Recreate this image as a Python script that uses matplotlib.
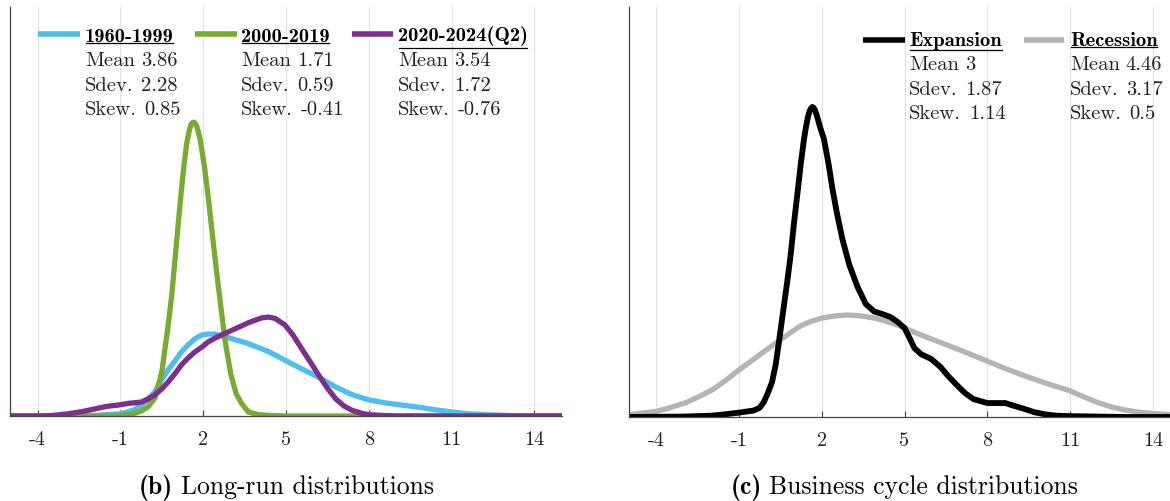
import matplotlib
matplotlib.use('Agg')
import matplotlib.pyplot as plt
from matplotlib.lines import Line2D
from matplotlib.textpath import TextPath
from matplotlib.font_manager import FontProperties

plt.rcParams['font.family'] = 'cmr10'
plt.rcParams['axes.unicode_minus'] = False

# ---- long-run distributions (panel b) ----
x_6099 = [-5, -3, -2, -1, -0.5, -0.24, 0, 0.24, 0.5, 0.73, 1.0, 1.21, 1.45, 1.7, 1.95, 2.18, 2.4,
          2.55, 2.85, 3.15, 3.5, 3.75, 4.12, 4.36, 4.96, 5.57, 6.18, 6.79, 7.39, 8, 8.6, 9.2, 9.82,
          10.43, 11.04, 11.65, 12.25, 13.2, 14, 15]
y_6099 = [0, 0, 0.001, 0.005, 0.014, 0.025, 0.039, 0.055, 0.083, 0.106, 0.128, 0.147, 0.163, 0.177,
          0.186, 0.188, 0.188, 0.186, 0.181, 0.175, 0.169, 0.163, 0.154, 0.148, 0.128, 0.108, 0.089,
          0.067, 0.049, 0.037, 0.030, 0.025, 0.020, 0.014, 0.009, 0.005, 0.003, 0.001, 0, 0]

x_0019 = [-5, -2, -1, -0.5, -0.25, 0, 0.25, 0.5, 0.7, 0.85, 0.95, 1.1, 1.2, 1.3, 1.4, 1.46, 1.52,
          1.58, 1.64, 1.70, 1.76, 1.82, 1.9, 2.05, 2.2, 2.35, 2.5, 2.65, 2.8, 3.0, 3.2, 3.4, 3.64,
          4.0, 4.5, 5, 15]
y_0019 = [0, 0, 0.001, 0.006, 0.011, 0.021, 0.041, 0.101, 0.193, 0.271, 0.339, 0.443, 0.512, 0.573,
          0.624, 0.644, 0.661, 0.671, 0.674, 0.672, 0.665, 0.653, 0.631, 0.569, 0.493, 0.406, 0.323,
          0.245, 0.170, 0.096, 0.050, 0.028, 0.009, 0.003, 0.001, 0, 0]

x_2024 = [-5, -4, -3.5, -2.9, -2.4, -1.94, -1.5, -1.1, -0.7, -0.24, 0, 0.24, 0.5, 0.73, 1.0, 1.21,
          1.45, 1.7, 1.95, 2.18, 2.5, 2.91, 3.3, 3.64, 3.9, 4.12, 4.36, 4.6, 4.96, 5.25, 5.57, 5.9,
          6.18, 6.5, 6.79, 7.1, 7.39, 7.7, 8, 8.6, 9, 15]
y_2024 = [0, 0, 0.001, 0.005, 0.010, 0.016, 0.022, 0.025, 0.029, 0.032, 0.039, 0.048, 0.062, 0.078,
          0.099, 0.117, 0.133, 0.147, 0.158, 0.170, 0.181, 0.193, 0.204, 0.214, 0.220, 0.225, 0.227,
          0.224, 0.209, 0.186, 0.154, 0.122, 0.094, 0.064, 0.040, 0.023, 0.013, 0.007, 0.003, 0.001,
          0, 0]

# ---- business cycle distributions (panel c) ----
x_exp = [-5, -3, -2, -1.67, -1, -0.46, -0.25, -0.1, 0.05, 0.2, 0.33, 0.45, 0.6, 0.75, 0.87, 1.0,
         1.14, 1.25, 1.36, 1.43, 1.5, 1.56, 1.61, 1.66, 1.71, 1.76, 1.82, 1.87, 1.94, 2.08, 2.25,
         2.39, 2.55, 2.75, 3.0, 3.3, 3.6, 3.9, 4.2, 4.5, 4.75, 5, 5.2, 5.36, 5.6, 5.97, 6.3, 6.58,
         6.9, 7.19, 7.5, 8, 8.3, 8.65, 9.0, 9.37, 9.7, 10.1, 10.5, 11, 12, 13, 16]
y_exp = [0, 0.001, 0.003, 0.005, 0.010, 0.015, 0.021, 0.034, 0.055, 0.080, 0.119, 0.172, 0.241,
         0.310, 0.369, 0.447, 0.523, 0.585, 0.638, 0.665, 0.688, 0.701, 0.708, 0.711, 0.709, 0.703,
         0.692, 0.681, 0.665, 0.638, 0.580, 0.523, 0.468, 0.408, 0.349, 0.298, 0.259, 0.242, 0.236,
         0.229, 0.218, 0.204, 0.179, 0.158, 0.144, 0.133, 0.115, 0.094, 0.073, 0.055, 0.041, 0.032,
         0.032, 0.032, 0.025, 0.018, 0.011, 0.006, 0.003, 0.002, 0.001, 0, 0]

x_rec = [-5, -4.5, -4, -3.5, -2.88, -2.4, -1.92, -1.5, -1, -0.6, -0.22, 0.15, 0.5, 0.9, 1.24, 1.6,
         2, 2.5, 2.93, 3.4, 3.9, 4.3, 4.75, 5, 5.6, 6.34, 7, 8, 8.7, 9.37, 10.2, 11, 11.5, 12.05,
         12.5, 13, 13.5, 14, 14.7, 15.5, 16]
y_rec = [0.005, 0.009, 0.013, 0.021, 0.034, 0.048, 0.064, 0.083, 0.108, 0.126, 0.144, 0.161, 0.177,
         0.195, 0.209, 0.219, 0.227, 0.232, 0.234, 0.232, 0.227, 0.220, 0.211, 0.204, 0.188, 0.170,
         0.154, 0.128, 0.110, 0.094, 0.076, 0.060, 0.046, 0.032, 0.023, 0.016, 0.011, 0.008, 0.005,
         0.002, 0.001]

xticks = [-4, -1, 2, 5, 8, 11, 14]
xticklabels = ['-4', '-1', '2', '5', '8', '11', '14']

stat_labels = ['Mean', 'Sdev.', 'Skew.']
names_b = ['1960-1999', '2000-2019', '2020-2024(Q2)']
stats_b = [['3.86', '2.28', '0.85'],
           ['1.71', '0.59', '-0.41'],
           ['3.54', '1.72', '-0.76']]
names_c = ['Expansion', 'Recession']
stats_c = [['3', '1.87', '1.14'],
           ['4.46', '3.17', '0.5']]

cols_b = ['#4DBEEE', '#77AC30', '#7E2F8E']
cols_c = ['#000000', '#B4B4B4']

W, H = 1170, 502
FS = 14.8
TICK_FS = 14.5
CAP_FS = 18.5
fig = plt.figure(figsize=(W / 100, H / 100), dpi=100)


def box(l, t, r, b):
    return [l / W, 1 - b / H, (r - l) / W, (b - t) / H]


def fx(px):
    return px / W


def fy(py):
    return 1 - py / H


def style(ax, top):
    ax.set_xlim(-5, 15)
    ax.set_ylim(0, top)
    ax.set_xticks(xticks)
    ax.set_xticklabels(xticklabels)
    ax.set_yticks([])
    ax.grid(axis='x', color='#e3e3e3', lw=0.9)
    ax.set_axisbelow(True)
    for s in ['top', 'right']:
        ax.spines[s].set_visible(False)
    for s in ['left', 'bottom']:
        ax.spines[s].set_color('#444444')
        ax.spines[s].set_linewidth(0.9)
    ax.tick_params(axis='x', direction='in', length=4, color='#444444',
                   labelsize=TICK_FS, pad=10, labelcolor='#222222')


def ink(s, fam, size):
    ext = TextPath((0, 0), s, size=size, prop=FontProperties(family=fam)).get_extents()
    k = 100 / 72.
    return ext.xmin * k, ext.xmax * k, ext.ymin * k


def legend_entry(col, sx0, sx1, sy, tx, base, name, vals):
    fig.add_artist(Line2D([fx(sx0), fx(sx1)], [fy(sy)] * 2, color=col, lw=4,
                          solid_capstyle='butt', transform=fig.transFigure))
    fig.text(fx(tx), fy(base), name, family='cmb10', fontsize=FS, va='baseline', ha='left')
    x0, x1, ymin = ink(name, 'cmb10', FS)
    uy = base + max(0, -ymin) + 2
    fig.add_artist(Line2D([fx(tx + x0), fx(tx + x1)], [fy(uy)] * 2, color='black', lw=0.9,
                          transform=fig.transFigure))
    for i, (lab, v) in enumerate(zip(stat_labels, vals)):
        y = fy(base + 24.6 * (i + 1))
        fig.text(fx(tx), y, lab, fontsize=FS, va='baseline', ha='left', color='#222222')
        gap = 6.5 if i == 0 else 9.5
        vx = tx + ink(lab, 'cmr10', FS)[1] + gap
        fig.text(fx(vx), y, v, fontsize=FS, va='baseline', ha='left', color='#222222')


def caption(cx, base, tag, txt):
    a0, a1, _ = ink(tag, 'cmb10', CAP_FS)
    b0, b1, _ = ink(txt, 'cmr10', CAP_FS)
    gap = 11
    tot = a1 + gap + (b1 - b0)
    x = cx - tot / 2
    fig.text(fx(x), fy(base), tag, family='cmb10', fontsize=CAP_FS, va='baseline', ha='left')
    fig.text(fx(x + a1 + gap - b0), fy(base), txt, fontsize=CAP_FS, va='baseline', ha='left')


# panel b
axL = fig.add_axes(box(10, 8, 562, 417))
style(axL, 409 / 436.)
axL.plot(x_6099, y_6099, color=cols_b[0], lw=3.8, solid_joinstyle='round')
axL.plot(x_0019, y_0019, color=cols_b[1], lw=3.8, solid_joinstyle='round')
axL.plot(x_2024, y_2024, color=cols_b[2], lw=3.8, solid_joinstyle='round')

# panel c
axR = fig.add_axes(box(628.5, 8, 1180.5, 418))
style(axR, 410 / 436.)
axR.plot(x_rec, y_rec, color=cols_c[1], lw=3.8, solid_joinstyle='round')
axR.plot(x_exp, y_exp, color=cols_c[0], lw=4.2, solid_joinstyle='round')

# legends drawn as text blocks
sw_b = [(38, 80, 85), (195, 237, 241), (352, 393, 398)]
for col, (a, b, t), n, vals in zip(cols_b, sw_b, names_b, stats_b):
    legend_entry(col, a, b, 35, t, 41.5, n, vals)

sw_c = [(863, 905, 909), (1024, 1064, 1070)]
for col, (a, b, t), n, vals in zip(cols_c, sw_c, names_c, stats_c):
    legend_entry(col, a, b, 40.5, t, 45.5, n, vals)

caption(286, 494, '(b)', 'Long-run distributions')
caption(904, 494, '(c)', 'Business cycle distributions')

fig.savefig('out.png', dpi=100)
